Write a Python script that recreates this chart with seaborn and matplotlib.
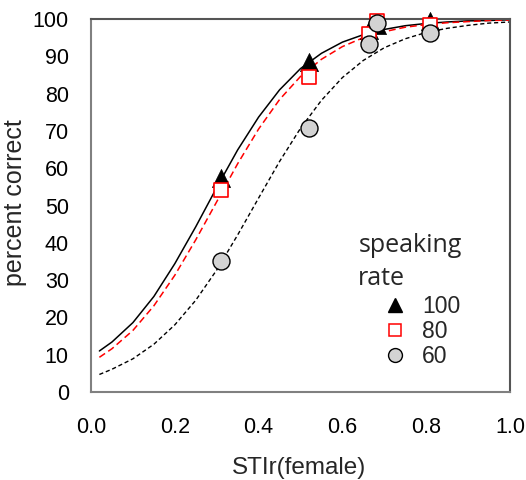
import matplotlib
matplotlib.use("Agg")
import matplotlib.pyplot as plt
from matplotlib.lines import Line2D
import seaborn as sns
import pandas as pd

# fitted curves
curve_x = [0.02, 0.05, 0.10, 0.15, 0.20, 0.25, 0.30, 0.35, 0.40, 0.45, 0.50,
           0.55, 0.60, 0.65, 0.70, 0.75, 0.80, 0.85, 0.90, 0.95, 1.00]
curve_100 = [11.0, 13.4, 18.6, 25.6, 34.4, 44.3, 54.8, 64.9, 73.7, 81.0, 86.7,
             90.8, 93.8, 95.8, 97.2, 98.2, 98.8, 99.2, 99.5, 99.6, 99.8]
curve_80 = [9.3, 11.6, 16.5, 23.1, 31.3, 40.8, 51.0, 61.2, 70.5, 78.4, 84.6,
            89.2, 92.6, 95.0, 96.6, 97.8, 98.5, 99.0, 99.3, 99.6, 99.7]
curve_60 = [4.7, 6.1, 8.9, 12.8, 18.0, 24.6, 32.7, 42.1, 52.0, 61.8, 70.7,
            78.2, 84.3, 88.9, 92.3, 94.7, 96.4, 97.5, 98.3, 98.9, 99.2]

# measured points
pt_x = [0.31, 0.52, 0.663, 0.683, 0.81]
pt_100 = [57.5, 88.5, 97.0, 98.5, 99.5]
pt_80 = [54.2, 84.5, 96.0, 99.5, 98.4]
pt_60 = [35.0, 70.8, 93.3, 98.8, 96.2]

rates = ["100", "80", "60"]
x_ticks = [0.0, 0.2, 0.4, 0.6, 0.8, 1.0]
y_ticks = [0, 10, 20, 30, 40, 50, 60, 70, 80, 90, 100]

sns.set_style("white")
plt.rcParams["font.family"] = ["Liberation Sans", "DejaVu Sans"]

fig = plt.figure(figsize=(5.26, 4.80), dpi=100)
ax = fig.add_axes([91 / 526, 1 - 392 / 480, 419 / 526, 373 / 480])

curves = pd.DataFrame({"x": curve_x * 3,
                       "y": curve_100 + curve_80 + curve_60,
                       "rate": [rates[0]] * len(curve_x) + [rates[1]] * len(curve_x) + [rates[2]] * len(curve_x)})
sns.lineplot(data=curves[curves.rate == "100"], x="x", y="y", ax=ax, color="black",
             linewidth=1.1, legend=False, zorder=2)
sns.lineplot(data=curves[curves.rate == "80"], x="x", y="y", ax=ax, color="#ff0000",
             linewidth=1.1, linestyle=(0, (4.5, 2.5)), legend=False, zorder=2)
sns.lineplot(data=curves[curves.rate == "60"], x="x", y="y", ax=ax, color="black",
             linewidth=1.0, linestyle=(0, (3, 2)), legend=False, zorder=2)

pts = pd.DataFrame({"x": pt_x, "p100": pt_100, "p80": pt_80, "p60": pt_60})
sns.scatterplot(data=pts, x="x", y="p100", ax=ax, marker="^", s=170, color="black",
                edgecolor="black", linewidth=0.5, zorder=3, legend=False, clip_on=False)
sns.scatterplot(data=pts, x="x", y="p80", ax=ax, marker="s", s=105, facecolor="white",
                edgecolor="#ff0000", linewidth=1.2, zorder=4, legend=False, clip_on=False)
sns.scatterplot(data=pts, x="x", y="p60", ax=ax, marker="o", s=150, color="#d3d3d3",
                edgecolor="black", linewidth=1.0, zorder=5, legend=False, clip_on=False)

ax.set_xlim(0, 1.0)
ax.set_ylim(0, 100)
ax.set_xticks(x_ticks)
ax.set_xticklabels([f"{v:.1f}" for v in x_ticks])
ax.set_yticks(y_ticks)
ax.set_yticklabels([str(v) for v in y_ticks])
ax.tick_params(axis="both", direction="out", length=6, width=1.2, color="#808080",
               labelsize=15.5, labelcolor="black")
ax.tick_params(axis="y", pad=10)
ax.tick_params(axis="x", pad=12)
for name, sp in ax.spines.items():
    sp.set_visible(True)
    sp.set_color("#808080" if name in ("left", "bottom") else "#555555")
    sp.set_linewidth(1.5)

ax.set_xlabel("STIr(female)", fontsize=17.5)
ax.set_ylabel("percent correct", fontsize=18)
ax.xaxis.set_label_coords(0.497, -0.175)
ax.yaxis.set_label_coords(-0.152, 0.507)

# legend
ax.text(0.638, 0.375, "speaking", transform=ax.transAxes, fontsize=18,
        family=["Open Sans", "DejaVu Sans"], va="baseline", ha="left")
ax.text(0.638, 0.287, "rate", transform=ax.transAxes, fontsize=18,
        family=["Open Sans", "DejaVu Sans"], va="baseline", ha="left")
handles = [
    Line2D([], [], linestyle="none", marker="^", markersize=10.5, color="black"),
    Line2D([], [], linestyle="none", marker="s", markersize=9, markerfacecolor="white",
           markeredgecolor="#ff0000", markeredgewidth=1.1),
    Line2D([], [], linestyle="none", marker="o", markersize=10, markerfacecolor="#d3d3d3",
           markeredgecolor="black", markeredgewidth=1.0),
]
leg = ax.legend(handles, rates, loc="upper left", bbox_to_anchor=(0.70, 0.26),
                frameon=False, fontsize=16.5, handlelength=0.9, handletextpad=0.75,
                labelspacing=0.08, borderaxespad=0, borderpad=0)

fig.savefig("out.png", dpi=100)
